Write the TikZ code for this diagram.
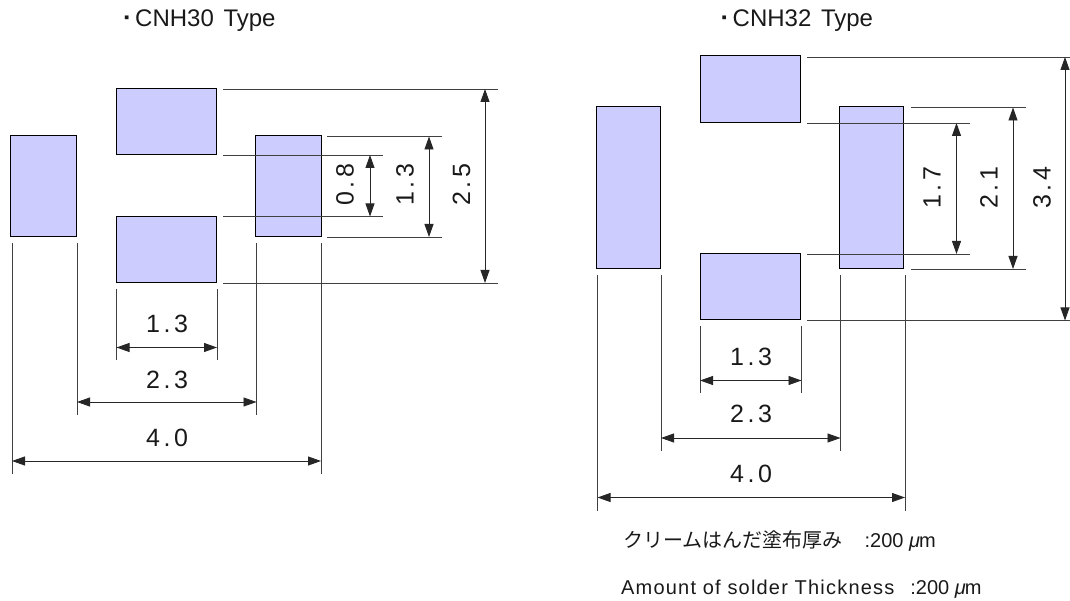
\documentclass[tikz,border=0pt]{standalone}
\usepackage{fontspec}
\usetikzlibrary{arrows.meta}
\setmainfont{Liberation Sans}
\newfontfamily\spacedfont[LetterSpace=6]{Liberation Sans}
\newfontfamily\cjk{Noto Sans CJK JP}
\definecolor{padfill}{RGB}{204,204,255}
\newcommand\dimtxt[3]{\makebox[14pt]{#1}\makebox[14pt]{#2}\makebox[14pt]{#3}}
\newcommand\unitmu{\textit{μ}\kern-1pt m}
\tikzset{
  x=1pt,y=-1pt,
  pad/.style={draw=black,line width=0.9pt,fill=padfill},
  ext/.style={draw=black!75,line width=0.9pt},
  dimline/.style={draw=black!85,line width=0.9pt,{Triangle[length=13pt,width=9pt]}-{Triangle[length=13pt,width=9pt]}},
  dimlabel/.style={font=\fontsize{25}{25}\selectfont,inner sep=0pt,text=black!90},
  vlabel/.style={dimlabel,rotate=90},
  title/.style={font=\fontsize{24}{24}\selectfont,inner sep=0pt,anchor=base west,text=black!90},
  note/.style={font=\fontsize{20}{20}\selectfont,inner sep=0pt,anchor=base west,text=black!90}
}
\begin{document}
\begin{tikzpicture}
\useasboundingbox (0,0) rectangle (1070,601);
% ---- CNH30
\node[title] (t30) at (124,27) {\makebox[11pt][l]{\fontsize{15}{15}\selectfont\raisebox{4pt}{▪}}CNH30\hspace{3pt} Type};
\path[pad] (10.5,135) rectangle (76.5,236);
\path[pad] (116,88.5) rectangle (216,154);
\path[pad] (116.5,216) rectangle (216,282);
\path[pad] (255,135) rectangle (321,236);
\coordinate (a1) at (223,89); \coordinate (a1e) at (498,89);
\coordinate (a2) at (223,155); \coordinate (a2e) at (383,155);
\coordinate (a3) at (223,216.5); \coordinate (a3e) at (383,216.5);
\coordinate (a4) at (327,136.5); \coordinate (a4e) at (442,136.5);
\coordinate (a5) at (327,237); \coordinate (a5e) at (442,237);
\coordinate (a6) at (223,283); \coordinate (a6e) at (498,283);
\foreach \i in {1,...,6} \draw[ext] (a\i) -- (a\i e);
\coordinate (b1) at (12,243); \coordinate (b1e) at (12,474);
\coordinate (b2) at (77,243); \coordinate (b2e) at (77,415);
\coordinate (b3) at (116.5,289); \coordinate (b3e) at (116.5,360);
\coordinate (b4) at (217,289); \coordinate (b4e) at (217,360);
\coordinate (b5) at (256.5,243); \coordinate (b5e) at (256.5,415);
\coordinate (b6) at (321,243); \coordinate (b6e) at (321,474);
\foreach \i in {1,...,6} \draw[ext] (b\i) -- (b\i e);
\coordinate (c1) at (370,155); \coordinate (c1e) at (370,216.5);
\coordinate (c2) at (429,136.5); \coordinate (c2e) at (429,237);
\coordinate (c3) at (485,89); \coordinate (c3e) at (485,283);
\coordinate (c4) at (116.5,347.5); \coordinate (c4e) at (217,347.5);
\coordinate (c5) at (77,402); \coordinate (c5e) at (256.5,402);
\coordinate (c6) at (12,461); \coordinate (c6e) at (321,461);
\foreach \i in {1,...,6} \draw[dimline] (c\i) -- (c\i e);
\node[vlabel] (l1) at (345,185) {\dimtxt{0}{.}{8}};
\node[vlabel] (l2) at (405,185) {\dimtxt{1}{.}{3}};
\node[vlabel] (l3) at (461.5,185) {\dimtxt{2}{.}{5}};
\node[dimlabel] (l4) at (167,324) {\dimtxt{1}{.}{3}};
\node[dimlabel] (l5) at (167,380) {\dimtxt{2}{.}{3}};
\node[dimlabel] (l6) at (167,438) {\dimtxt{4}{.}{0}};
% ---- CNH32
\node[title] (t32) at (721.5,27) {\makebox[11pt][l]{\fontsize{15}{15}\selectfont\raisebox{4pt}{▪}}CNH32\hspace{3pt} Type};
\path[pad] (596,106.5) rectangle (660.5,268.5);
\path[pad] (700,55.5) rectangle (800.5,122);
\path[pad] (700,253) rectangle (800.5,319);
\path[pad] (839.5,106.5) rectangle (903.5,268.5);
\coordinate (d1) at (807,57); \coordinate (d1e) at (1070,57);
\coordinate (d2) at (807,123); \coordinate (d2e) at (970,123);
\coordinate (d3) at (807,254); \coordinate (d3e) at (970,254);
\coordinate (d4) at (911,107.5); \coordinate (d4e) at (1026,107.5);
\coordinate (d5) at (911,269); \coordinate (d5e) at (1026,269);
\coordinate (d6) at (807,320.5); \coordinate (d6e) at (1070,320.5);
\foreach \i in {1,...,6} \draw[ext] (d\i) -- (d\i e);
\coordinate (e1) at (597.5,275); \coordinate (e1e) at (597.5,511);
\coordinate (e2) at (661,275); \coordinate (e2e) at (661,451);
\coordinate (e3) at (700,326); \coordinate (e3e) at (700,393);
\coordinate (e4) at (801,326); \coordinate (e4e) at (801,393);
\coordinate (e5) at (840,275); \coordinate (e5e) at (840,451);
\coordinate (e6) at (905,275); \coordinate (e6e) at (905,511);
\foreach \i in {1,...,6} \draw[ext] (e\i) -- (e\i e);
\coordinate (f1) at (956.5,123); \coordinate (f1e) at (956.5,254);
\coordinate (f2) at (1013,107.5); \coordinate (f2e) at (1013,269);
\coordinate (f3) at (1065,57); \coordinate (f3e) at (1065,320.5);
\coordinate (f4) at (700,380.5); \coordinate (f4e) at (801.5,380.5);
\coordinate (f5) at (661,438); \coordinate (f5e) at (840.5,438);
\coordinate (f6) at (597.5,497.5); \coordinate (f6e) at (905,497.5);
\foreach \i in {1,...,6} \draw[dimline] (f\i) -- (f\i e);
\node[vlabel] (m1) at (932,188) {\dimtxt{1}{.}{7}};
\node[vlabel] (m2) at (989,188) {\dimtxt{2}{.}{1}};
\node[vlabel] (m3) at (1042,188) {\dimtxt{3}{.}{4}};
\node[dimlabel] (m4) at (751,357) {\dimtxt{1}{.}{3}};
\node[dimlabel] (m5) at (751,414) {\dimtxt{2}{.}{3}};
\node[dimlabel] (m6) at (751,474) {\dimtxt{4}{.}{0}};
% ---- notes
\node[note] (n1) at (623,547) {{\cjk クリームはんだ塗布厚み}\hspace{22pt}:200 \unitmu};
\node[note] (n2) at (621,594) {{\spacedfont\fontsize{20}{20}\selectfont Amount of solder Thickness}\hspace{16pt}:200 \unitmu};
\end{tikzpicture}
\end{document}
